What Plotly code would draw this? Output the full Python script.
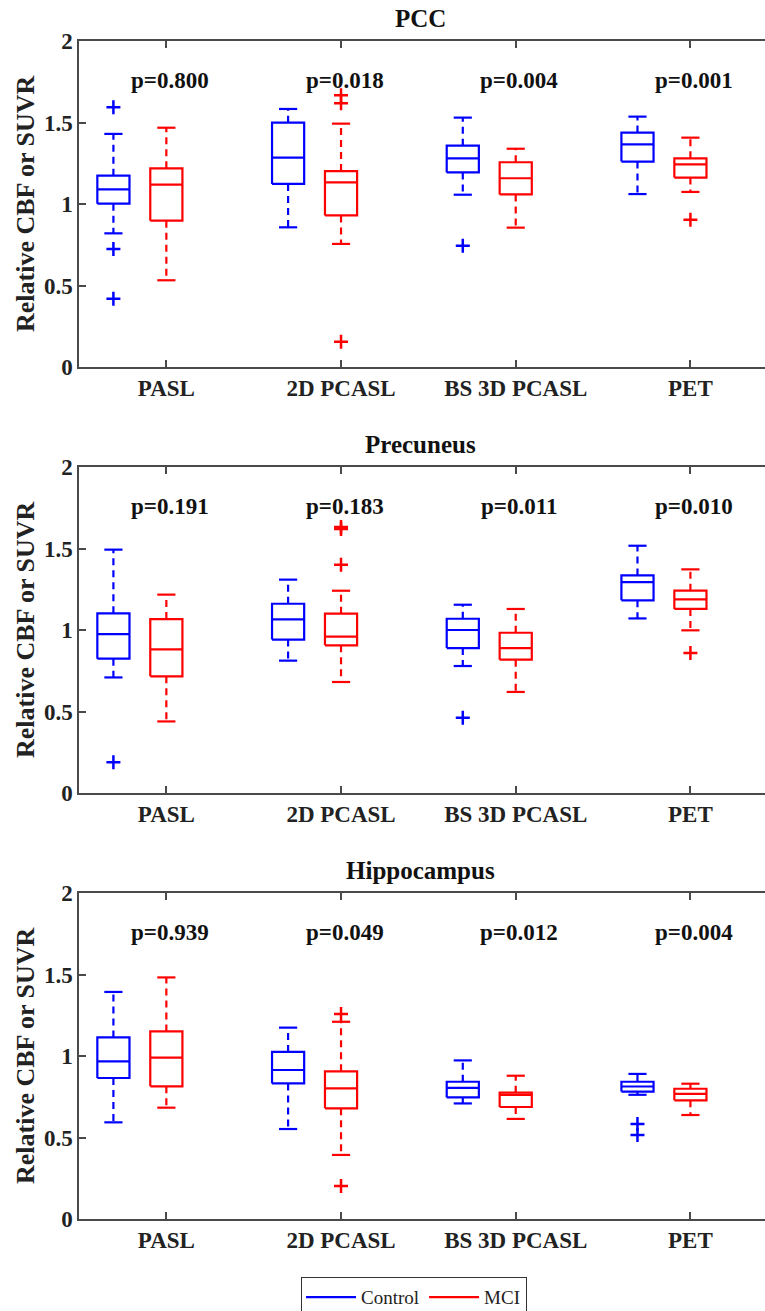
import plotly.graph_objects as go
from plotly.subplots import make_subplots

categories = ["PASL", "2D PCASL", "BS 3D PCASL", "PET"]
regions = ["PCC", "Precuneus", "Hippocampus"]

# p-values per region
pcc_p = ["0.800", "0.018", "0.004", "0.001"]
prec_p = ["0.191", "0.183", "0.011", "0.010"]
hipp_p = ["0.939", "0.049", "0.012", "0.004"]

# PCC - Control
pcc_ctl_lo = [0.820, 0.857, 1.057, 1.061]
pcc_ctl_q1 = [1.002, 1.123, 1.194, 1.260]
pcc_ctl_med = [1.090, 1.284, 1.280, 1.366]
pcc_ctl_q3 = [1.174, 1.499, 1.358, 1.438]
pcc_ctl_hi = [1.430, 1.583, 1.530, 1.536]
pcc_ctl_out = [[1.593, 0.724, 0.419], [], [0.744], []]
# PCC - MCI
pcc_mci_lo = [0.532, 0.755, 0.855, 1.074]
pcc_mci_q1 = [0.898, 0.930, 1.059, 1.162]
pcc_mci_med = [1.119, 1.133, 1.158, 1.243]
pcc_mci_q3 = [1.219, 1.202, 1.256, 1.280]
pcc_mci_hi = [1.468, 1.493, 1.339, 1.407]
pcc_mci_out = [[], [1.667, 1.618, 0.155], [], [0.904]]

# Precuneus - Control
prec_ctl_lo = [0.709, 0.812, 0.779, 1.071]
prec_ctl_q1 = [0.824, 0.941, 0.889, 1.182]
prec_ctl_med = [0.975, 1.065, 1.000, 1.294]
prec_ctl_q3 = [1.102, 1.161, 1.069, 1.335]
prec_ctl_hi = [1.493, 1.309, 1.155, 1.517]
prec_ctl_out = [[0.188], [], [0.462], []]
# Precuneus - MCI
prec_mci_lo = [0.439, 0.681, 0.620, 0.998]
prec_mci_q1 = [0.716, 0.906, 0.818, 1.129]
prec_mci_med = [0.881, 0.959, 0.889, 1.188]
prec_mci_q3 = [1.067, 1.100, 0.983, 1.241]
prec_mci_hi = [1.217, 1.241, 1.129, 1.372]
prec_mci_out = [[], [1.632, 1.620, 1.401], [], [0.859]]

# Hippocampus - Control
hipp_ctl_lo = [0.593, 0.552, 0.709, 0.762]
hipp_ctl_q1 = [0.865, 0.832, 0.746, 0.782]
hipp_ctl_med = [0.967, 0.914, 0.804, 0.813]
hipp_ctl_q3 = [1.114, 1.025, 0.842, 0.842]
hipp_ctl_hi = [1.393, 1.174, 0.973, 0.890]
hipp_ctl_out = [[], [], [], [0.583, 0.515]]
# Hippocampus - MCI
hipp_mci_lo = [0.683, 0.393, 0.614, 0.638]
hipp_mci_q1 = [0.814, 0.679, 0.687, 0.728]
hipp_mci_med = [0.990, 0.801, 0.761, 0.768]
hipp_mci_q3 = [1.151, 0.906, 0.775, 0.799]
hipp_mci_hi = [1.482, 1.210, 0.879, 0.830]
hipp_mci_out = [[], [1.258, 0.202], [], []]

region_data = [
    (pcc_p, (pcc_ctl_lo, pcc_ctl_q1, pcc_ctl_med, pcc_ctl_q3, pcc_ctl_hi, pcc_ctl_out),
     (pcc_mci_lo, pcc_mci_q1, pcc_mci_med, pcc_mci_q3, pcc_mci_hi, pcc_mci_out)),
    (prec_p, (prec_ctl_lo, prec_ctl_q1, prec_ctl_med, prec_ctl_q3, prec_ctl_hi, prec_ctl_out),
     (prec_mci_lo, prec_mci_q1, prec_mci_med, prec_mci_q3, prec_mci_hi, prec_mci_out)),
    (hipp_p, (hipp_ctl_lo, hipp_ctl_q1, hipp_ctl_med, hipp_ctl_q3, hipp_ctl_hi, hipp_ctl_out),
     (hipp_mci_lo, hipp_mci_q1, hipp_mci_med, hipp_mci_q3, hipp_mci_hi, hipp_mci_out)),
]

groups = ["Control", "MCI"]
colors = ["#0000ff", "#ff0000"]
offsets = [-0.303, 0.0]
BOX_HW = 0.092
CAP_HW = 0.052
FONT = "Liberation Serif"
AXC = "#4a4a4a"

W, H = 765, 1311
L = 79
fig = make_subplots(rows=3, cols=1)

for r, (pvals, ctl, mci) in enumerate(region_data):
    row = r + 1
    for g, stats in enumerate([ctl, mci]):
        lo, q1, med, q3, hi, out = stats
        col = colors[g]
        bx, by, wx, wy, cx, cy, ox, oy = [], [], [], [], [], [], [], []
        for i in range(len(categories)):
            xc = i + 1 + offsets[g]
            bx += [xc - BOX_HW, xc + BOX_HW, xc + BOX_HW, xc - BOX_HW, xc - BOX_HW, None,
                   xc - BOX_HW, xc + BOX_HW, None]
            by += [q1[i], q1[i], q3[i], q3[i], q1[i], None, med[i], med[i], None]
            wx += [xc, xc, None, xc, xc, None]
            wy += [q3[i], hi[i], None, q1[i], lo[i], None]
            cx += [xc - CAP_HW, xc + CAP_HW, None, xc - CAP_HW, xc + CAP_HW, None]
            cy += [hi[i], hi[i], None, lo[i], lo[i], None]
            for v in out[i]:
                ox.append(xc)
                oy.append(v)
        fig.add_trace(go.Scatter(x=wx, y=wy, mode="lines", showlegend=False, hoverinfo="skip",
                                 line=dict(color=col, width=2.2, dash="7px,5px")), row=row, col=1)
        fig.add_trace(go.Scatter(x=cx, y=cy, mode="lines", showlegend=False, hoverinfo="skip",
                                 line=dict(color=col, width=2.2)), row=row, col=1)
        fig.add_trace(go.Scatter(x=bx, y=by, mode="lines", name=groups[g], legendgroup=groups[g],
                                 showlegend=(r == 0),
                                 line=dict(color=col, width=2.2)), row=row, col=1)
        fig.add_trace(go.Scatter(x=ox, y=oy, mode="markers", showlegend=False,
                                 marker=dict(symbol="cross-thin", size=10, color=col,
                                             line=dict(color=col, width=2.5))), row=row, col=1)
    for i, p in enumerate(pvals):
        fig.add_annotation(x=i + 1.02, y=1.76, xref=f"x{row if row > 1 else ''}",
                           yref=f"y{row if row > 1 else ''}", text=f"p={p}", showarrow=False,
                           font=dict(family=FONT, size=23, color="#111", weight="bold"))

# domains (pixel-based)
tops = [41, 467, 893]
ph = 326
for r in range(3):
    t = tops[r]
    dom = [1 - (t + ph) / H, 1 - t / H]
    suf = "" if r == 0 else str(r + 1)
    fig.layout[f"yaxis{suf}"].update(
        domain=dom, range=[0, 2], tickvals=[0, 0.5, 1, 1.5, 2],
        ticktext=["0", "0.5", "1", "1.5", "2"],
        ticks="inside", ticklen=7, tickwidth=1.5, tickcolor=AXC,
        showline=True, linecolor=AXC, linewidth=1.5, showgrid=False, zeroline=False,
        tickfont=dict(family=FONT, size=23, color="#222", weight="bold"))
    fig.layout[f"xaxis{suf}"].update(
        range=[0.5, 4.427], tickvals=[1, 2, 3, 4], ticktext=categories,
        ticks="inside", ticklen=7, tickwidth=1.5, tickcolor=AXC,
        showline=True, linecolor=AXC, linewidth=1.5, mirror="ticks", showgrid=False,
        zeroline=False, ticklabelstandoff=0,
        tickfont=dict(family=FONT, size=23, color="#222", weight="bold"))
    yref = "y domain" if r == 0 else f"y{r + 1} domain"
    xref = "x domain" if r == 0 else f"x{r + 1} domain"
    fig.add_annotation(x=(420 - L) / (W - L), y=1, xref=xref, yref=yref, yanchor="bottom",
                       yshift=7, text=regions[r], showarrow=False,
                       font=dict(family=FONT, size=25, color="#111", weight="bold"))
    fig.add_annotation(x=-54 / (W - L), y=0.5, xref="paper", yref=yref, textangle=-90,
                       xanchor="center", yanchor="middle",
                       text="Relative CBF or SUVR", showarrow=False,
                       font=dict(family=FONT, size=26, color="#222", weight="bold"))

fig.update_layout(
    width=W, height=H, plot_bgcolor="white", paper_bgcolor="white",
    margin=dict(l=L, r=0, t=0, b=0, autoexpand=False),
    legend=dict(orientation="h", x=(301 - L) / (W - L), xanchor="left",
                y=1 - 1277 / H, yanchor="top", bordercolor="#333", borderwidth=1.2,
                font=dict(family=FONT, size=19, color="#222"), itemwidth=50,
                tracegroupgap=0, bgcolor="white"),
)
fig.write_html("out.html", config={"displayModeBar": False},
               post_script="document.body.style.margin='0px';document.body.style.overflow='hidden';")
